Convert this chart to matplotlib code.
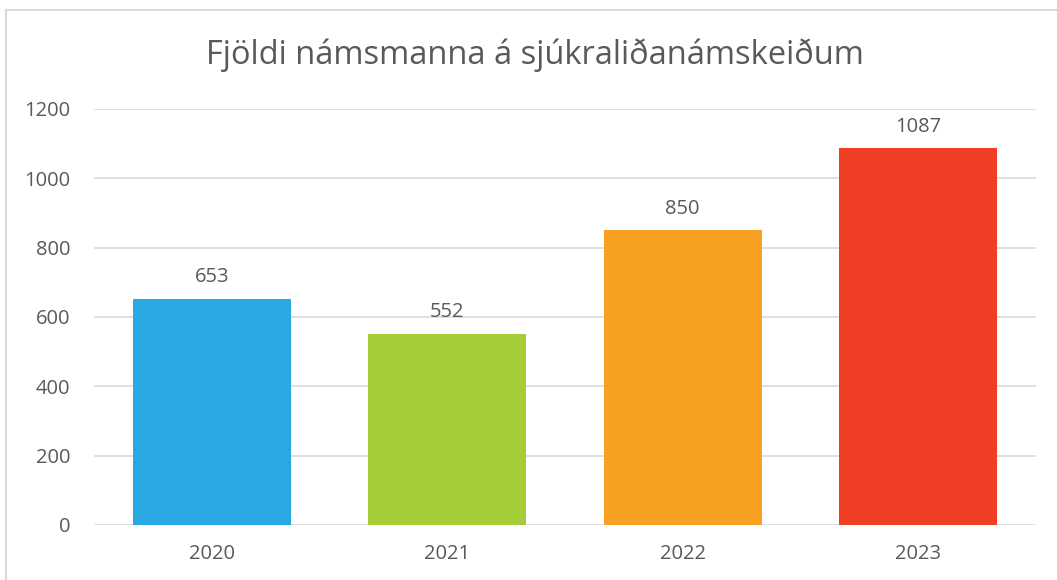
import matplotlib
matplotlib.use("Agg")
import matplotlib.pyplot as plt
from matplotlib.patches import Rectangle

years = ["2020", "2021", "2022", "2023"]
values = [653, 552, 850, 1087]
colors = ["#29A9E1", "#A5CD39", "#F7A021", "#EF3E23"]
yticks = [0, 200, 400, 600, 800, 1000, 1200]
title = "Fjöldi námsmanna á sjúkraliðanámskeiðum"

plt.rcParams['font.family'] = ['Open Sans', 'DejaVu Sans']
txt = "#595959"

fig = plt.figure(figsize=(10.57, 5.8), dpi=100)
fig.patches.append(Rectangle((6/1057, -0.05), 1.1, 0.05 + 1 - 10/580,
                             transform=fig.transFigure, fill=False,
                             edgecolor="#D9D9D9", linewidth=1.5))
ax = fig.add_axes([94/1057, 1 - 525/580, (1036 - 94)/1057, (525 - 109)/580])
x = range(len(years))
bars = ax.bar(x, values, width=0.67, color=colors, zorder=3)
for xi, v in zip(x, values):
    ax.text(xi, v + 33, str(v), ha="center", va="bottom", fontsize=14.5, color=txt)
ax.set_xlim(-0.5, len(years) - 0.5)
ax.set_ylim(0, 1200)
ax.set_yticks(yticks)
ax.set_yticklabels([str(t) for t in yticks])
ax.set_xticks(list(x))
ax.set_xticklabels(years)
ax.tick_params(axis="both", length=0, labelsize=14.5, labelcolor=txt)
ax.tick_params(axis="y", pad=17)
ax.tick_params(axis="x", pad=14)
ax.grid(axis="y", color="#D9D9D9", linewidth=1.2, zorder=0)
for s in ax.spines.values():
    s.set_visible(False)
fig.text(535/1057, 1 - 55/580, title, ha="center", va="center", fontsize=23.5, color=txt)
fig.savefig("out.png", dpi=100)
